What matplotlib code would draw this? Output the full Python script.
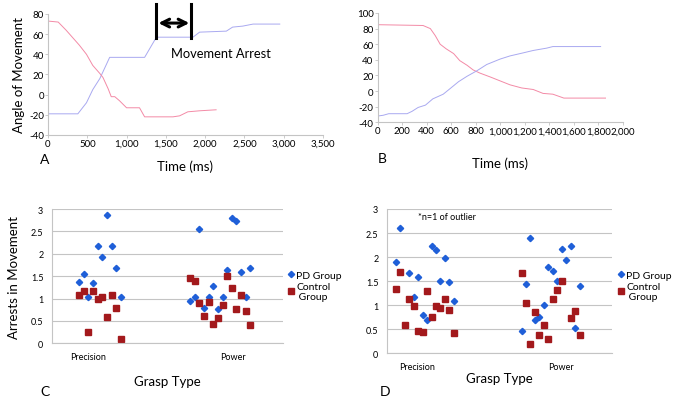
import numpy as np
import matplotlib
matplotlib.use('Agg')
import matplotlib.pyplot as plt
from matplotlib.ticker import StrMethodFormatter

plt.rcParams['font.family'] = ['Lato', 'DejaVu Sans']
plt.rcParams['axes.unicode_minus'] = False

# panel A traces (time in ms, angle)
a_blue_t = [0, 380, 490, 570, 660, 785, 1230, 1380, 1845, 1930, 2270, 2350, 2480, 2610, 2950]
a_blue_y = [-19, -19, -8, 5, 16, 37, 37, 57, 57, 62, 63, 67, 68, 70, 70]
a_pink_t = [0, 130, 230, 400, 490, 570, 660, 700, 765, 805, 850, 910, 1000, 1165, 1230, 1590, 1675, 1780, 1930, 2140]
a_pink_y = [73, 72, 64, 49, 40, 29, 21, 17, 6, -2, -2, -6, -13, -13, -22, -22, -21, -17, -16, -15]

# panel B traces
b_pink_t = [0, 370, 430, 470, 510, 560, 620, 670, 730, 780, 835, 920, 1000, 1080, 1175, 1270, 1350, 1430, 1520, 1600, 1860]
b_pink_y = [85, 84, 80, 71, 60, 54, 48, 39, 33, 27, 23, 18, 13, 8, 4, 2, -3, -4, -9, -9, -9]
b_blue_t = [0, 45, 90, 240, 280, 330, 390, 450, 535, 590, 660, 730, 810, 890, 1000, 1080, 1190, 1270, 1380, 1430, 1600, 1820]
b_blue_y = [-32, -31, -29, -29, -26, -21, -18, -10, -4, 3, 12, 19, 26, 34, 41, 45, 49, 52, 55, 57, 57, 57]

# panel C: arrests per subject
c_pd_x = [0.938, 0.970, 1.002, 1.034, 1.067, 1.099, 1.129, 1.163, 1.193, 1.225,
          1.703, 1.736, 1.768, 1.800, 1.832, 1.864, 1.897, 1.929, 1.961, 1.993, 2.023, 2.055, 2.088, 2.119]
c_pd_y = [1.38, 1.54, 1.03, 1.35, 2.17, 1.93, 2.87, 2.17, 1.69, 1.03,
          0.95, 1.03, 2.55, 0.79, 1.03, 1.27, 0.77, 1.03, 1.64, 2.79, 2.73, 1.59, 1.03, 1.69]
c_ctl_x = [0.938, 0.970, 1.002, 1.034, 1.067, 1.099, 1.129, 1.163, 1.193, 1.225,
           1.703, 1.736, 1.768, 1.800, 1.832, 1.864, 1.897, 1.929, 1.961, 1.993, 2.023, 2.055, 2.088, 2.119]
c_ctl_y = [1.08, 1.16, 0.26, 1.16, 1.00, 1.03, 0.58, 1.08, 0.79, 0.10,
           1.47, 1.40, 0.90, 0.60, 0.92, 0.43, 0.56, 0.86, 1.50, 1.24, 0.77, 1.08, 0.73, 0.40]

# panel D
d_pd_x = [0.854, 0.886, 0.947, 0.979, 1.011, 1.041, 1.071, 1.104, 1.134, 1.164, 1.196, 1.226, 1.258,
          1.728, 1.757, 1.787, 1.820, 1.850, 1.882, 1.912, 1.945, 1.975, 2.007, 2.037, 2.069, 2.099, 2.132]
d_pd_y = [1.90, 2.61, 1.66, 1.16, 1.58, 0.80, 0.69, 2.22, 2.14, 1.50, 1.98, 1.48, 1.08,
          0.47, 1.43, 2.40, 0.69, 0.75, 1.00, 1.80, 1.71, 1.50, 2.16, 1.93, 2.24, 0.53, 1.39]
d_ctl_x = [0.854, 0.886, 0.917, 0.947, 0.979, 1.011, 1.041, 1.071, 1.104, 1.134, 1.164, 1.196, 1.226, 1.258,
           1.728, 1.757, 1.787, 1.820, 1.850, 1.882, 1.912, 1.945, 1.975, 2.007, 2.069, 2.099, 2.132]
d_ctl_y = [1.34, 1.68, 0.58, 1.13, 0.98, 0.47, 0.44, 1.29, 0.76, 0.98, 0.94, 1.13, 0.89, 0.42,
           1.66, 1.05, 0.20, 0.85, 0.37, 0.58, 0.29, 1.13, 1.32, 1.50, 0.74, 0.87, 0.37]

grasp_labels = ['Precision', 'Power']

pink = '#f38aa6'
lav = '#a9a9f0'
blue = '#1f5fd8'
red = '#a3191c'
gray = '#c4c4c4'

fig = plt.figure(figsize=(6.73, 4.02), dpi=100)


def style_line_ax(ax):
    for s in ['top', 'right']:
        ax.spines[s].set_visible(False)
    for s in ['left', 'bottom']:
        ax.spines[s].set_color(gray)
        ax.spines[s].set_linewidth(0.8)
    ax.tick_params(length=2, width=0.6, color=gray, labelsize=7, pad=1)
    ax.xaxis.set_major_formatter(StrMethodFormatter('{x:,.0f}'))


# A
axA = fig.add_axes([0.0713, 0.6617, 0.4086, 0.301])
axA.plot(a_blue_t, a_blue_y, color=lav, lw=0.7)
axA.plot(a_pink_t, a_pink_y, color=pink, lw=0.7)
axA.set_xlim(0, 3500)
axA.set_ylim(-40, 80)
axA.set_xticks(np.arange(0, 3501, 500))
axA.set_yticks(np.arange(-40, 81, 20))
style_line_ax(axA)
axA.set_xlabel('Time (ms)', fontsize=9.5, labelpad=8)
axA.set_ylabel('Angle of Movement', fontsize=9.5, labelpad=3)
axA.text(-0.03, -0.2, 'A', transform=axA.transAxes, fontsize=10, va='center')
# movement arrest marker
axA.plot([1380, 1380], [56, 90], color='black', lw=2.2, clip_on=False)
axA.plot([1825, 1825], [56, 90], color='black', lw=2.2, clip_on=False)
axA.annotate('', xy=(1370, 71), xytext=(1835, 71),
             arrowprops=dict(arrowstyle='<->', lw=2.2, color='black', mutation_scale=14),
             annotation_clip=False)
axA.text(1560, 41, 'Movement Arrest', fontsize=9.3, va='center')

# B
axB = fig.add_axes([0.5612, 0.6933, 0.364, 0.2719])
axB.plot(b_pink_t, b_pink_y, color=pink, lw=0.7)
axB.plot(b_blue_t, b_blue_y, color=lav, lw=0.7)
axB.set_xlim(0, 2000)
axB.set_ylim(-40, 100)
axB.set_xticks(np.arange(0, 2001, 200))
axB.set_yticks(np.arange(-40, 101, 20))
style_line_ax(axB)
axB.set_xlabel('Time (ms)', fontsize=9.5, labelpad=15)
axB.text(0.0, -0.33, 'B', transform=axB.transAxes, fontsize=10, va='center')


def style_scatter_ax(ax):
    for s in ['top', 'right']:
        ax.spines[s].set_visible(False)
    for s in ['left', 'bottom']:
        ax.spines[s].set_color(gray)
        ax.spines[s].set_linewidth(0.8)
    ax.set_ylim(0, 3)
    ax.set_yticks(np.arange(0, 3.01, 0.5))
    ax.set_yticklabels(['0', '0.5', '1', '1.5', '2', '2.5', '3'])
    ax.yaxis.grid(True, color=gray, lw=0.8)
    ax.set_axisbelow(True)
    ax.set_xticks([1, 2])
    ax.set_xticklabels(grasp_labels)
    ax.tick_params(length=0, labelsize=6.5, pad=6)


# C
axC = fig.add_axes([0.0768, 0.1435, 0.3432, 0.3341])
axC.plot(c_pd_x, c_pd_y, ls='none', marker='D', ms=3.2, color=blue, label='PD Group')
axC.plot(c_ctl_x, c_ctl_y, ls='none', marker='s', ms=4, color=red, label='Control\n Group')
axC.set_xlim(0.75, 2.343)
style_scatter_ax(axC)
axC.set_xlabel('Grasp Type', fontsize=9.5, labelpad=10)
axC.set_ylabel('Arrests in Movement', fontsize=9.5, labelpad=8)
axC.text(-0.05, -0.355, 'C', transform=axC.transAxes, fontsize=10, va='center')
axC.legend(loc='upper left', bbox_to_anchor=(0.428, 0.325), bbox_transform=fig.transFigure,
           frameon=False, fontsize=7.5, handlelength=0.6, handletextpad=0.2,
           borderpad=0, borderaxespad=0, labelspacing=0.2)

# D
axD = fig.add_axes([0.5746, 0.1187, 0.3343, 0.359])
axD.plot(d_pd_x, d_pd_y, ls='none', marker='D', ms=3.2, color=blue, label='PD Group')
axD.plot(d_ctl_x, d_ctl_y, ls='none', marker='s', ms=4, color=red, label='Control\n Group')
axD.set_xlim(0.792, 2.351)
style_scatter_ax(axD)
axD.set_xlabel('Grasp Type', fontsize=9.5, labelpad=1)
axD.text(-0.03, -0.26, 'D', transform=axD.transAxes, fontsize=10, va='center')
axD.text(0.14, 0.95, '*n=1 of outlier', transform=axD.transAxes, fontsize=6.5, va='center')
axD.legend(loc='upper left', bbox_to_anchor=(0.918, 0.325), bbox_transform=fig.transFigure,
           frameon=False, fontsize=7.5, handlelength=0.6, handletextpad=0.2,
           borderpad=0, borderaxespad=0, labelspacing=0.2)

fig.savefig('out.png', dpi=100)
